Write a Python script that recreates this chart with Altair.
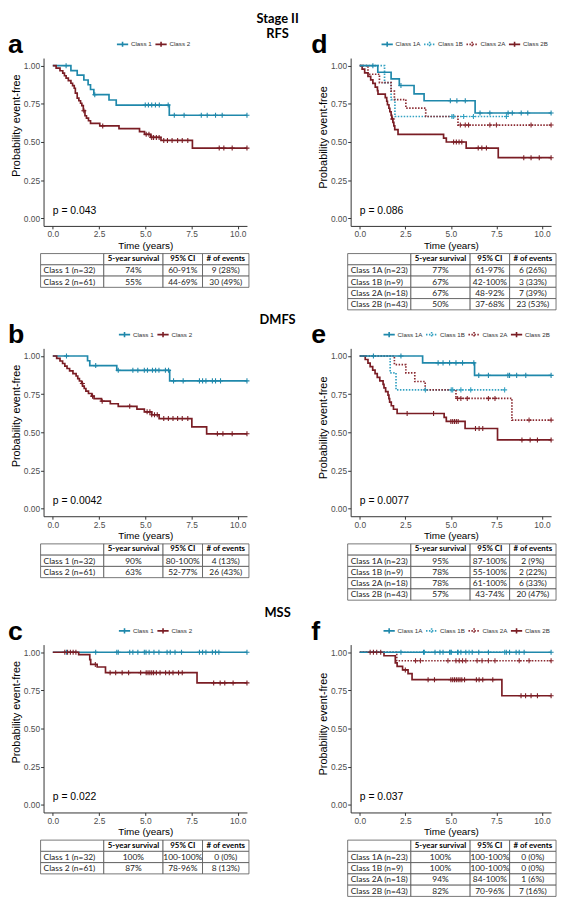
import altair as alt
import pandas as pd

# ---------------- data ----------------
# Panel a (RFS, Class 1 / Class 2): event times, survival after each event, censor times
A1_T = [0.98, 1.32, 1.68, 1.91, 2.04, 2.22, 3.04, 3.43, 6.30]
A1_S = [0.968, 0.938, 0.906, 0.875, 0.844, 0.810, 0.775, 0.742, 0.675]
A1_C = [0.72, 2.27, 5.00, 5.17, 5.35, 5.55, 5.76, 6.24, 6.57, 7.10, 8.03, 8.35, 8.80, 9.16, 10.5]
A2_T = [0.18, 0.39, 0.54, 0.63, 0.72, 0.84, 0.98, 1.07, 1.16, 1.22, 1.32, 1.41, 1.50, 1.57, 1.65,
        1.74, 1.82, 1.93, 2.04, 2.54, 3.58, 4.69, 4.96, 5.30, 5.85, 7.55]
A2_S = [0.984, 0.967, 0.951, 0.934, 0.918, 0.902, 0.885, 0.869, 0.852, 0.820, 0.787, 0.770, 0.754, 0.738, 0.705,
        0.672, 0.656, 0.639, 0.622, 0.605, 0.587, 0.568, 0.550, 0.530, 0.510, 0.460]
A2_C = [1.68, 2.70, 5.05, 5.20, 5.35, 5.45, 5.60, 5.75, 6.00, 6.20, 6.45, 6.75, 7.00, 7.30, 9.00, 9.25, 9.70, 10.5]

# Panel b (DMFS)
B1_T = [1.88, 2.00, 3.46, 6.32]
B1_S = [0.969, 0.937, 0.906, 0.837]
B1_C = [0.74, 2.32, 3.54, 4.33, 4.60, 4.95, 5.12, 5.39, 5.56, 5.74, 6.09, 6.26, 6.53, 7.05, 7.93, 8.10,
        8.28, 8.63, 8.80, 9.07, 10.5]
B2_T = [0.21, 0.39, 0.53, 0.65, 0.77, 0.91, 1.09, 1.26, 1.35, 1.44, 1.56, 1.61, 1.70, 1.79, 1.93, 2.11,
        2.23, 2.63, 3.11, 3.54, 4.55, 4.95, 5.35, 5.75, 7.52, 8.32]
B2_S = [0.984, 0.967, 0.951, 0.934, 0.918, 0.902, 0.885, 0.869, 0.852, 0.836, 0.820, 0.803, 0.787, 0.770,
        0.754, 0.737, 0.721, 0.704, 0.687, 0.670, 0.652, 0.634, 0.615, 0.590, 0.535, 0.490]
B2_C = [1.60, 2.15, 2.67, 4.16, 5.10, 5.25, 5.35, 5.50, 5.65, 6.00, 6.25, 6.50, 6.75, 7.00, 7.30, 8.90,
        9.20, 9.70, 10.5]

# Panel c (MSS)
C1_T = []
C1_S = []
C1_C = [0.74, 2.32, 3.46, 3.54, 4.16, 4.33, 4.60, 4.95, 5.04, 5.21, 5.47, 5.74, 6.18, 6.35, 6.61, 6.96,
        7.93, 8.10, 8.28, 8.63, 8.80, 8.98, 10.5]
C2_T = [1.40, 2.00, 2.05, 2.40, 2.85, 7.80]
C2_S = [0.984, 0.952, 0.920, 0.903, 0.866, 0.799]
C2_C = [0.65, 0.80, 0.95, 1.10, 1.25, 2.30, 3.10, 3.40, 3.75, 4.10, 4.75, 5.05, 5.15, 5.25, 5.35, 5.45,
        5.60, 5.80, 6.10, 6.30, 6.50, 6.80, 7.00, 8.70, 9.05, 9.30, 9.75, 10.5]

# Panel d (RFS, four classes)
D1A_T = [0.99, 1.72, 2.17, 2.98, 3.53, 6.33]
D1A_S = [0.957, 0.913, 0.870, 0.815, 0.770, 0.690]
D1A_C = [0.72, 2.26, 4.97, 5.33, 5.79, 6.60, 7.14, 8.14, 8.37, 8.86, 9.22, 10.5]
D1B_T = [1.36, 1.72, 1.93]
D1B_S = [0.889, 0.778, 0.667]
D1B_C = [5.06, 5.15, 5.70, 6.24, 8.05]
D2A_T = [0.45, 1.08, 1.72, 1.90, 2.53, 3.62, 5.39]
D2A_S = [0.944, 0.889, 0.833, 0.778, 0.722, 0.667, 0.611]
D2A_C = [5.52, 5.79, 5.97, 7.14, 7.50, 9.40, 10.5]
D2B_T = [0.13, 0.27, 0.45, 0.60, 0.72, 0.85, 0.97, 1.00, 1.40, 1.48, 1.52, 1.60, 1.65, 1.72, 1.76, 1.82,
         1.87, 1.92, 2.10, 4.60, 4.75, 5.84, 7.60]
D2B_S = [0.977, 0.953, 0.930, 0.907, 0.884, 0.860, 0.837, 0.814, 0.791, 0.767, 0.744, 0.721, 0.698, 0.674,
         0.651, 0.628, 0.605, 0.581, 0.550, 0.525, 0.500, 0.460, 0.397]
D2B_C = [1.80, 5.15, 5.30, 5.45, 5.60, 6.50, 6.70, 6.95, 9.00, 9.40, 9.85, 10.5]

# Panel e (DMFS, four classes)
E1A_T = [3.45, 6.30]
E1A_S = [0.955, 0.873]
E1A_C = [0.75, 2.26, 4.30, 4.57, 4.93, 5.28, 5.64, 6.26, 6.53, 7.06, 8.13, 8.22, 8.61, 9.11, 10.5]
E1B_T = [1.67, 1.99]
E1B_S = [0.889, 0.778]
E1B_C = [3.60, 5.02, 5.10, 5.55, 6.09, 7.95]
E2A_T = [1.90, 2.53, 3.02, 3.59, 5.28, 8.35]
E2A_S = [0.944, 0.889, 0.833, 0.778, 0.722, 0.580]
E2A_C = [5.37, 5.55, 5.90, 7.06, 7.42, 9.29, 10.5]
E2B_T = [0.30, 0.45, 0.57, 0.71, 0.84, 0.96, 1.10, 1.28, 1.33, 1.42, 1.55, 1.60, 1.64, 1.73, 1.85, 2.05,
         4.63, 4.75, 5.78, 7.56]
E2B_S = [0.977, 0.953, 0.930, 0.907, 0.884, 0.860, 0.837, 0.814, 0.791, 0.767, 0.744, 0.721, 0.698, 0.674,
         0.651, 0.623, 0.598, 0.571, 0.525, 0.450]
E2B_C = [2.60, 4.05, 5.00, 5.10, 5.20, 5.30, 5.40, 6.35, 6.55, 6.75, 8.90, 9.35, 9.75, 10.5]

# Panel f (MSS, four classes)
F1A_T = []
F1A_S = []
F1A_C = [2.26, 3.50, 4.13, 4.40, 4.57, 4.93, 5.02, 5.37, 5.55, 5.82, 6.17, 6.53, 7.06, 8.04, 8.22, 8.58,
         8.75, 9.02, 10.5]
F1B_T = []
F1B_S = []
F1B_C = [3.55, 5.00, 5.40, 6.00, 7.95]
F2A_T = [2.03]
F2A_S = [0.944]
F2A_C = [3.06, 3.33, 4.84, 5.28, 5.46, 5.64, 5.82, 6.44, 6.71, 7.06, 7.42, 8.75, 9.29, 10.5]
F2B_T = [1.33, 1.95, 2.05, 2.35, 2.65, 2.87, 7.80]
F2B_S = [0.977, 0.930, 0.907, 0.884, 0.860, 0.820, 0.715]
F2B_C = [0.57, 0.75, 0.93, 1.15, 2.50, 3.75, 4.10, 5.00, 5.10, 5.20, 5.30, 5.40, 5.50, 5.60, 5.75, 6.40,
         6.55, 6.75, 7.30, 8.85, 9.10, 9.40, 9.75, 10.5]

GROUPS_2 = ["Class 1", "Class 2"]
GROUPS_4 = ["Class 1A", "Class 1B", "Class 2A", "Class 2B"]
P_VALUES = {"a": "p = 0.043", "b": "p = 0.0042", "c": "p = 0.022",
            "d": "p = 0.086", "e": "p = 0.0077", "f": "p = 0.037"}
FIG_TITLE = "Stage II"
SECTION_TITLES = {"a": "RFS", "b": "DMFS", "c": "MSS"}

TAB_HEADER = ["", "5-year survival", "95% CI", "# of events"]
TAB_LABELS_2 = ["Class 1 (n=32)", "Class 2 (n=61)"]
TAB_LABELS_4 = ["Class 1A (n=23)", "Class 1B (n=9)", "Class 2A (n=18)", "Class 2B (n=43)"]
TAB_A_SURV = ["74%", "55%"]
TAB_A_CI = ["60-91%", "44-69%"]
TAB_A_EV = ["9 (28%)", "30 (49%)"]
TAB_B_SURV = ["90%", "63%"]
TAB_B_CI = ["80-100%", "52-77%"]
TAB_B_EV = ["4 (13%)", "26 (43%)"]
TAB_C_SURV = ["100%", "87%"]
TAB_C_CI = ["100-100%", "78-96%"]
TAB_C_EV = ["0 (0%)", "8 (13%)"]
TAB_D_SURV = ["77%", "67%", "67%", "50%"]
TAB_D_CI = ["61-97%", "42-100%", "48-92%", "37-68%"]
TAB_D_EV = ["6 (26%)", "3 (33%)", "7 (39%)", "23 (53%)"]
TAB_E_SURV = ["95%", "78%", "78%", "57%"]
TAB_E_CI = ["87-100%", "55-100%", "61-100%", "43-74%"]
TAB_E_EV = ["2 (9%)", "2 (22%)", "6 (33%)", "20 (47%)"]
TAB_F_SURV = ["100%", "100%", "94%", "82%"]
TAB_F_CI = ["100-100%", "100-100%", "84-100%", "70-96%"]
TAB_F_EV = ["0 (0%)", "0 (0%)", "1 (6%)", "7 (16%)"]

# ---------------- styling / layout ----------------
BLUE = "#1f88ab"
CYAN = "#34a2c2"
RED = "#7a1d24"
RED2 = "#8a2a31"
FONT_AX = "Liberation Sans"
FONT_TAB = "Lato"
PLUS = "M-1,0H1M0,-1V1"
LEG_PATH = "M-1,0H1M0,-0.45V0.45"
COL_W = [64, 60, 40, 47]
TAB_SHIFT = 3
ROW_H = 11.4
N_SLOTS = 5
PLOT_H = 170
END_T = 10.5
TITLE_X = 237          # centre of the section titles, from the left plot's left edge
LEFT_TABLE_W = 261     # left table cell also reserves room for the centred section titles


def step_at(times, survs, t):
    s = 1.0
    for ti, si in zip(times, survs):
        if ti <= t:
            s = si
    return s


def build(groups):
    lrows, crows = [], []
    for name, T, S, C in groups:
        last = S[-1] if S else 1.0
        end = max(C) if C else END_T
        pts = [(0.0, 1.0)] + list(zip(T, S)) + [(end, last)]
        for t, s in pts:
            lrows.append({"group": name, "t": t, "s": s})
        for c in C:
            crows.append({"group": name, "t": c, "s": step_at(T, S, c)})
    return pd.DataFrame(lrows), pd.DataFrame(crows)


def km(groups, names, colors, dashes, letter, width, legend_x, letter_x, ytitle_y, titles=()):
    ldf, cdf = build(groups)
    cscale = alt.Scale(domain=names, range=colors)
    dscale = alt.Scale(domain=names, range=dashes)
    leg = alt.Legend(title=None, orient="none", legendX=legend_x, legendY=-21,
                     direction="horizontal", symbolType=LEG_PATH, symbolSize=130,
                     symbolStrokeWidth=1.6, labelFontSize=6.3, labelFont=FONT_AX,
                     labelColor="#333", columnPadding=0, labelOffset=1.5, padding=0)
    x = alt.X("t:Q", scale=alt.Scale(domain=[-0.5, 10.5], nice=False, zero=False),
              axis=alt.Axis(values=[0, 2.5, 5, 7.5, 10], format=".1f", title="Time (years)",
                            titleFontSize=10))
    y = alt.Y("s:Q", scale=alt.Scale(domain=[-0.05, 1.05], nice=False, zero=False),
              axis=alt.Axis(values=[0, 0.25, 0.5, 0.75, 1.0], format=".2f",
                            title="Probability event-free", titleFontSize=11, titleY=ytitle_y))
    lines = alt.Chart(ldf).mark_line(interpolate="step-after", strokeWidth=1.7).encode(
        x=x, y=y,
        color=alt.Color("group:N", scale=cscale, legend=leg),
        strokeDash=alt.StrokeDash("group:N", scale=dscale, legend=leg),
    )
    cens = alt.Chart(cdf).mark_point(shape=PLUS, filled=False, size=26, strokeWidth=1.1,
                                     opacity=1).encode(
        x=x, y=y, color=alt.Color("group:N", scale=cscale, legend=leg))
    pdf = pd.DataFrame({"t": [0.0], "s": [0.05], "label": [P_VALUES[letter]], "letter": [letter]})
    ptxt = alt.Chart(pdf).mark_text(align="left", baseline="middle", fontSize=10.5,
                                    font=FONT_AX, color="black").encode(x=x, y=y, text="label:N")
    ltxt = alt.Chart(pdf).mark_text(align="left", baseline="alphabetic", fontSize=27,
                                    font=FONT_AX, fontWeight="bold", color="black").encode(
        x=alt.value(letter_x), y=alt.value(-5), text="letter:N")
    layers = [lines, cens, ptxt, ltxt]
    for txt, ty in titles:
        layers.append(alt.Chart(pdf).mark_text(
            align="center", baseline="middle", fontSize=13, font=FONT_TAB,
            fontWeight="bold", color="black").encode(
            x=alt.value(TITLE_X), y=alt.value(ty), text=alt.value(txt)))
    return alt.layer(*layers).properties(width=width, height=PLOT_H)


def table(labels, surv, ci, ev, chart_w):
    edges = [0]
    for w in COL_W:
        edges.append(edges[-1] + w)
    rows = [TAB_HEADER] + [list(r) for r in zip(labels, surv, ci, ev)]
    recs = []
    for r, row in enumerate(rows):
        for c, txt in enumerate(row):
            kind = "head" if r == 0 else ("label" if c == 0 else "body")
            recs.append({"x0": edges[c], "x1": edges[c + 1], "xm": (edges[c] + edges[c + 1]) / 2,
                         "y0": r, "y1": r + 1, "ym": r + 0.5, "txt": txt, "kind": kind})
    df = pd.DataFrame(recs)
    xs = alt.Scale(domain=[TAB_SHIFT, chart_w + TAB_SHIFT], nice=False, zero=False)
    ys = alt.Scale(domain=[0, N_SLOTS], nice=False, zero=False, reverse=True)
    base = alt.Chart(df)
    rect = base.mark_rect(fill="white", stroke="#555555", strokeWidth=0.8).encode(
        x=alt.X("x0:Q", scale=xs, axis=None), x2="x1:Q",
        y=alt.Y("y0:Q", scale=ys, axis=None), y2="y1:Q")
    head = base.transform_filter(alt.datum.kind == "head").mark_text(
        fontSize=8, font=FONT_TAB, fontWeight="bold", baseline="middle", color="black").encode(
        x=alt.X("xm:Q", scale=xs, axis=None), y=alt.Y("ym:Q", scale=ys, axis=None), text="txt:N")
    lab = base.transform_filter(alt.datum.kind == "label").mark_text(
        fontSize=8.5, font=FONT_TAB, align="left", dx=3, baseline="middle", color="#222").encode(
        x=alt.X("x0:Q", scale=xs, axis=None), y=alt.Y("ym:Q", scale=ys, axis=None), text="txt:N")
    body = base.transform_filter(alt.datum.kind == "body").mark_text(
        fontSize=8.5, font=FONT_TAB, baseline="middle", color="#222").encode(
        x=alt.X("xm:Q", scale=xs, axis=None), y=alt.Y("ym:Q", scale=ys, axis=None), text="txt:N")
    return alt.layer(rect, head, lab, body).properties(width=chart_w, height=N_SLOTS * ROW_H)


def indep(ch):
    return ch.resolve_scale(color="independent", strokeDash="independent")


def panel(k, t):
    return indep(alt.vconcat(k, t, spacing=2))


def row(left, right):
    return indep(alt.hconcat(left, right, spacing=10))


dash2 = [[1, 0], [1, 0]]
dash4 = [[1, 0], [1.5, 1.5], [1.5, 1.5], [1, 0]]
col2 = [BLUE, RED]
col4 = [BLUE, CYAN, RED2, RED]

ka = km([("Class 1", A1_T, A1_S, A1_C), ("Class 2", A2_T, A2_S, A2_C)], GROUPS_2, col2, dash2,
        "a", 206, 73, -36, 68, titles=[(FIG_TITLE, -39), (SECTION_TITLES["a"], -24)])
kb = km([("Class 1", B1_T, B1_S, B1_C), ("Class 2", B2_T, B2_S, B2_C)], GROUPS_2, col2, dash2,
        "b", 206, 75, -36, 68, titles=[(SECTION_TITLES["b"], -29)])
kc = km([("Class 1", C1_T, C1_S, C1_C), ("Class 2", C2_T, C2_S, C2_C)], GROUPS_2, col2, dash2,
        "c", 206, 75, -36, 68, titles=[(SECTION_TITLES["c"], -32)])
kd = km([("Class 1B", D1B_T, D1B_S, D1B_C), ("Class 2A", D2A_T, D2A_S, D2A_C),
         ("Class 2B", D2B_T, D2B_S, D2B_C), ("Class 1A", D1A_T, D1A_S, D1A_C)],
        GROUPS_4, col4, dash4, "d", 203, 30, -40, 80)
ke = km([("Class 1B", E1B_T, E1B_S, E1B_C), ("Class 2A", E2A_T, E2A_S, E2A_C),
         ("Class 2B", E2B_T, E2B_S, E2B_C), ("Class 1A", E1A_T, E1A_S, E1A_C)],
        GROUPS_4, col4, dash4, "e", 203, 32, -40, 80)
kf = km([("Class 1B", F1B_T, F1B_S, F1B_C), ("Class 2A", F2A_T, F2A_S, F2A_C),
         ("Class 2B", F2B_T, F2B_S, F2B_C), ("Class 1A", F1A_T, F1A_S, F1A_C)],
        GROUPS_4, col4, dash4, "f", 203, 32, -40, 80)

RIGHT_TABLE_W = sum(COL_W)
ta = table(TAB_LABELS_2, TAB_A_SURV, TAB_A_CI, TAB_A_EV, LEFT_TABLE_W)
tb = table(TAB_LABELS_2, TAB_B_SURV, TAB_B_CI, TAB_B_EV, LEFT_TABLE_W)
tc = table(TAB_LABELS_2, TAB_C_SURV, TAB_C_CI, TAB_C_EV, LEFT_TABLE_W)
td = table(TAB_LABELS_4, TAB_D_SURV, TAB_D_CI, TAB_D_EV, RIGHT_TABLE_W)
te = table(TAB_LABELS_4, TAB_E_SURV, TAB_E_CI, TAB_E_EV, RIGHT_TABLE_W)
tf = table(TAB_LABELS_4, TAB_F_SURV, TAB_F_CI, TAB_F_EV, RIGHT_TABLE_W)

r1 = row(panel(ka, ta), panel(kd, td))
r2 = row(panel(kb, tb), panel(ke, te))
r3 = row(panel(kc, tc), panel(kf, tf))

top = indep(alt.vconcat(r1, r2, spacing=3))
chart = indep(alt.vconcat(top, r3, spacing=6)).properties(padding=0).configure_view(
    stroke=None).configure_axis(
    grid=False, labelFont=FONT_AX, labelFontSize=8.5, labelColor="#4d4d4d", labelPadding=1,
    titleFont=FONT_AX, titleFontWeight="normal", titleColor="black",
    titlePadding=2, domainColor="#333333", domainWidth=1, tickColor="#333333", tickSize=3)

chart.save("out.html", embed_options={"renderer": "svg", "actions": False})
